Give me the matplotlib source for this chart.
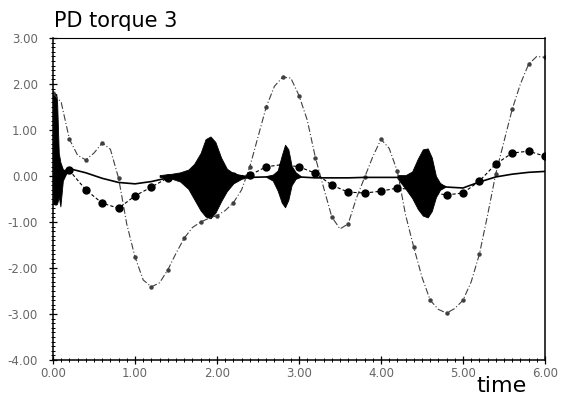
import numpy as np
import matplotlib.pyplot as plt
from matplotlib.ticker import MultipleLocator, FormatStrFormatter

# ---------------------
# Torque traces, sampled from t = 0 to 6

# dash-dot trace, sampled every 0.1 s
t_a = np.round(np.arange(0, 6.01, 0.1), 2)
torque_a = [1.8, 1.6, 0.8, 0.45, 0.35, 0.5, 0.72, 0.58, -0.05, -1.05,
            -1.76, -2.26, -2.41, -2.32, -2.04, -1.68, -1.35, -1.12, -1.0, -0.92,
            -0.86, -0.75, -0.58, -0.3, 0.2, 0.85, 1.5, 1.95, 2.15, 2.13,
            1.75, 1.22, 0.4, -0.25, -0.89, -1.15, -1.04, -0.48, -0.03, 0.42,
            0.8, 0.6, 0.1, -0.85, -1.55, -2.2, -2.7, -2.9, -2.98, -2.88,
            -2.7, -2.3, -1.7, -0.85, 0.05, 0.75, 1.45, 2.0, 2.43, 2.6,
            2.58]

# dotted trace with big markers, sampled every 0.2 s
t_b = np.round(np.arange(0, 6.01, 0.2), 2)
torque_b = [0.0, 0.12, -0.3, -0.59, -0.7, -0.43, -0.24, -0.04, 0.0, 0.0,
            0.0, 0.0, 0.02, 0.2, 0.25, 0.2, 0.06, -0.2, -0.35, -0.37,
            -0.33, -0.26, -0.3, -0.36, -0.41, -0.37, -0.11, 0.26, 0.5, 0.54,
            0.43]

# solid trace, sampled every 0.2 s
t_c = t_b
torque_c = [0.0, 0.16, 0.07, -0.05, -0.14, -0.17, -0.12, -0.04, 0.02, 0.02,
            0.0, -0.02, -0.03, -0.02, 0.0, -0.02, -0.04, -0.04, -0.04, -0.03,
            -0.03, -0.03, -0.05, -0.12, -0.24, -0.26, -0.13, -0.02, 0.04, 0.08,
            0.1]

# chattering trace: upper / lower envelope of each burst
burst_t = [
    [0.0, 0.02, 0.04, 0.05, 0.07, 0.09, 0.12, 0.16, 0.2],
    [1.3, 1.45, 1.55, 1.65, 1.72, 1.8, 1.86, 1.92, 1.98, 2.05, 2.12, 2.2, 2.3, 2.4],
    [2.6, 2.68, 2.74, 2.79, 2.83, 2.87, 2.91, 2.96, 3.02],
    [4.2, 4.3, 4.38, 4.45, 4.51, 4.57, 4.62, 4.67, 4.72, 4.78],
]
burst_hi = [
    [1.8, 1.8, 1.78, 1.6, 0.5, 0.3, 0.15, 0.1, 0.1],
    [0.02, 0.05, 0.08, 0.14, 0.26, 0.5, 0.8, 0.86, 0.74, 0.4, 0.16, 0.06, 0.02, 0.0],
    [0.0, 0.03, 0.12, 0.45, 0.68, 0.58, 0.22, 0.08, 0.0],
    [0.02, 0.02, 0.1, 0.38, 0.58, 0.6, 0.4, 0.0, -0.15, -0.22],
]
burst_lo = [
    [-0.6, -0.62, -0.62, -0.6, -0.45, -0.66, -0.1, 0.05, 0.1],
    [-0.02, -0.06, -0.12, -0.28, -0.5, -0.75, -0.88, -0.92, -0.8, -0.55, -0.33, -0.16, -0.06, -0.02],
    [-0.02, -0.1, -0.32, -0.58, -0.68, -0.52, -0.2, -0.06, -0.02],
    [-0.05, -0.28, -0.48, -0.72, -0.86, -0.9, -0.76, -0.46, -0.3, -0.24],
]

y_ticks = [3, 2, 1, 0, -1, -2, -3, -4]
x_ticks = [0, 1, 2, 3, 4, 5, 6]


fig = plt.figure(figsize=(5.82, 4.01), dpi=100)
ax = fig.add_axes([0.0911, 0.1022, 0.8453, 0.803])

for tt, hi, lo in zip(burst_t, burst_hi, burst_lo):
    ax.fill_between(tt, lo, hi, color='black', lw=0.6, edgecolor='black')

ax.plot(t_a, torque_a, color='0.25', lw=0.8, linestyle=(0, (6, 2, 1, 2)),
        marker='o', markersize=2.2, markevery=2)
ax.plot(t_b, torque_b, color='black', lw=0.8, linestyle=(0, (3, 2)),
        marker='o', markersize=5)
ax.plot(t_c, torque_c, color='black', lw=1.2)

ax.set_xlim(0, 6)
ax.set_ylim(-4, 3)
ax.set_xticks(x_ticks)
ax.set_yticks(y_ticks)
ax.xaxis.set_minor_locator(MultipleLocator(0.1))
ax.yaxis.set_minor_locator(MultipleLocator(0.1))
ax.xaxis.set_major_formatter(FormatStrFormatter('%.2f'))
ax.yaxis.set_major_formatter(FormatStrFormatter('%.2f'))
ax.tick_params(which='major', direction='inout', length=6, width=0.9,
               labelsize=8.5, labelcolor='0.4')
ax.tick_params(axis='y', which='major', pad=8)
ax.tick_params(axis='x', which='major', pad=2)
ax.tick_params(which='minor', direction='inout', length=3, width=0.7)

for side in ['left', 'bottom', 'right']:
    ax.spines[side].set_linewidth(1.1)
ax.spines['top'].set_linewidth(0.8)
ax.spines['top'].set_linestyle((0, (8, 1)))

fig.text(0.092, 0.932, 'PD torque 3', fontsize=15, ha='left', va='baseline')
fig.text(0.818, 0.022, 'time', fontsize=16, weight='medium',
         ha='left', va='baseline')

fig.savefig('out.png', dpi=100)
